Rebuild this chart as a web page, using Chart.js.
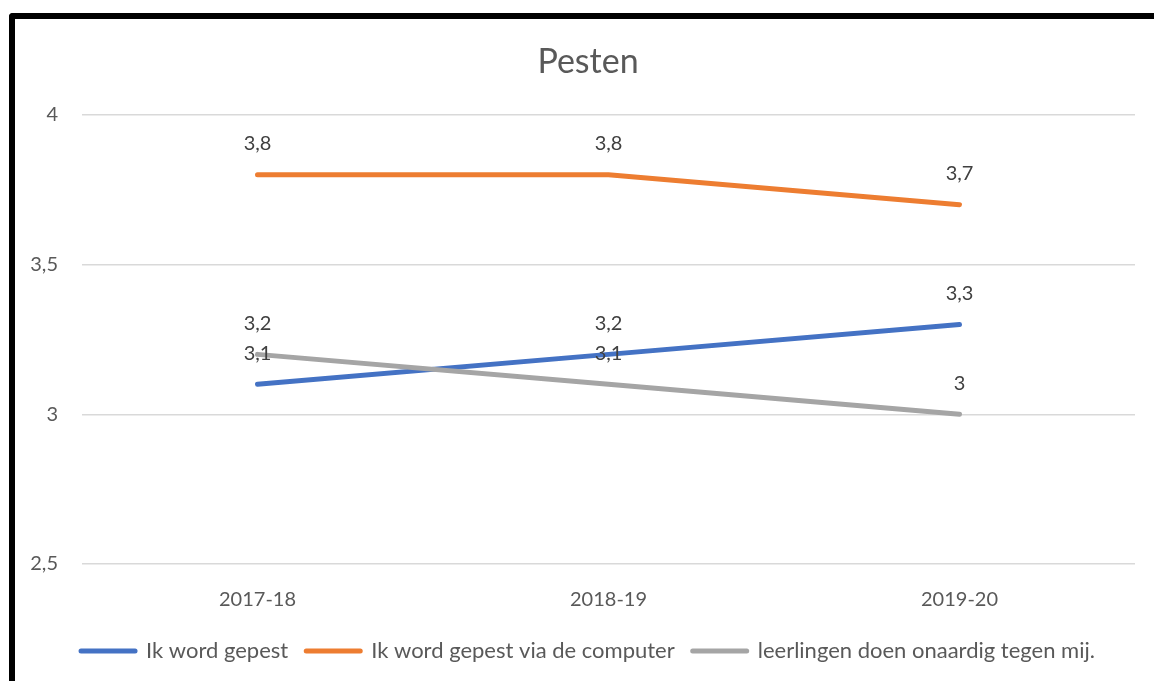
<!DOCTYPE html>
<html>
<head>
<meta charset="utf-8">
<script src="https://cdn.jsdelivr.net/npm/chart.js@4/dist/chart.umd.min.js"></script>
<style>
  html, body { margin: 0; padding: 0; background: #fff; overflow: hidden; }
  #wrap { position: relative; width: 1154px; height: 681px; overflow: hidden; }
  #frame {
    position: absolute; left: 9px; top: 13px; width: 1200px; height: 720px;
    border-top: 6px solid #000; border-left: 6px solid #000;
    border-top-left-radius: 4px; pointer-events: none;
  }
</style>
</head>
<body>
<div id="wrap">
  <!-- the original chart is a bit wider than the screenshot, so the canvas runs past the right edge -->
  <canvas id="chart" width="1176" height="681"></canvas>
  <div id="frame"></div>
</div>
<script>
const years = ['2017-18', '2018-19', '2019-20'];
const gepest = [3.1, 3.2, 3.3];
const computer = [3.8, 3.8, 3.7];
const onaardig = [3.2, 3.1, 3.0];
const seriesNames = ['Ik word gepest', 'Ik word gepest via de computer', 'leerlingen doen onaardig tegen mij.'];

const fontFamily = 'Lato, "Open Sans", sans-serif';

function comma(v) {
    return String(v).replace('.', ',');
}

// data labels above each point
const valueLabels = {
    id: 'valueLabels',
    afterDatasetsDraw(chart) {
        const ctx = chart.ctx;
        ctx.save();
        ctx.font = '20px ' + fontFamily;
        ctx.fillStyle = '#404040';
        ctx.textAlign = 'center';
        ctx.textBaseline = 'middle';
        chart.data.datasets.forEach(function (ds, i) {
            const meta = chart.getDatasetMeta(i);
            meta.data.forEach(function (pt, j) {
                ctx.fillText(comma(ds.data[j]), pt.x, pt.y - 31);
            });
        });
        ctx.restore();
    }
};

const ctx = document.getElementById('chart').getContext('2d');
new Chart(ctx, {
    type: 'line',
    data: {
        labels: years,
        datasets: [{
            label: seriesNames[0],
            data: gepest,
            borderColor: '#4472C4',
            backgroundColor: '#4472C4',
            order: 2
        }, {
            label: seriesNames[1],
            data: computer,
            borderColor: '#ED7D31',
            backgroundColor: '#ED7D31',
            order: 1
        }, {
            label: seriesNames[2],
            data: onaardig,
            borderColor: '#A5A5A5',
            backgroundColor: '#A5A5A5',
            order: 0
        }]
    },
    options: {
        responsive: false,
        animation: false,
        elements: {
            line: { borderWidth: 5, borderCapStyle: 'round', tension: 0 },
            point: { radius: 0, hoverRadius: 0 }
        },
        layout: { padding: { top: 42, right: 0, bottom: 9, left: 0 } },
        plugins: {
            title: {
                display: true,
                text: 'Pesten',
                color: '#595959',
                font: { family: fontFamily, size: 34, weight: 'normal' },
                padding: { top: 0, bottom: 32 }
            },
            legend: {
                position: 'bottom',
                labels: {
                    usePointStyle: true,
                    pointStyle: 'line',
                    pointStyleWidth: 54,
                    color: '#595959',
                    font: { family: fontFamily, size: 22 },
                    padding: 18,
                    sort: function (a, b) { return a.datasetIndex - b.datasetIndex; },
                    generateLabels: function (chart) {
                        const items = Chart.defaults.plugins.legend.labels.generateLabels(chart);
                        items.forEach(function (it) {
                            it.lineWidth = 5;
                            it.lineCap = 'round';
                        });
                        return items;
                    }
                }
            },
            tooltip: { enabled: false }
        },
        scales: {
            x: {
                offset: true,
                grid: { display: false, drawTicks: false },
                border: { display: false },
                afterFit: function (scale) { scale.height = scale.height - 14; },
                ticks: {
                    color: '#595959',
                    font: { family: fontFamily, size: 20 },
                    padding: 24
                }
            },
            y: {
                min: 2.5,
                max: 4,
                grid: { color: '#D9D9D9', lineWidth: 1.5, drawTicks: false },
                border: { display: false },
                afterFit: function (scale) { scale.width = 82; },
                ticks: {
                    stepSize: 0.5,
                    color: '#595959',
                    font: { family: fontFamily, size: 20 },
                    padding: 24,
                    callback: function (v) { return comma(v); }
                }
            },
            // empty margin on the right of the plot
            yRight: {
                position: 'right',
                min: 2.5,
                max: 4,
                grid: { display: false, drawTicks: false },
                border: { display: false },
                ticks: { display: false },
                afterFit: function (scale) { scale.width = 41; }
            }
        }
    },
    plugins: [valueLabels]
});
</script>
</body>
</html>
